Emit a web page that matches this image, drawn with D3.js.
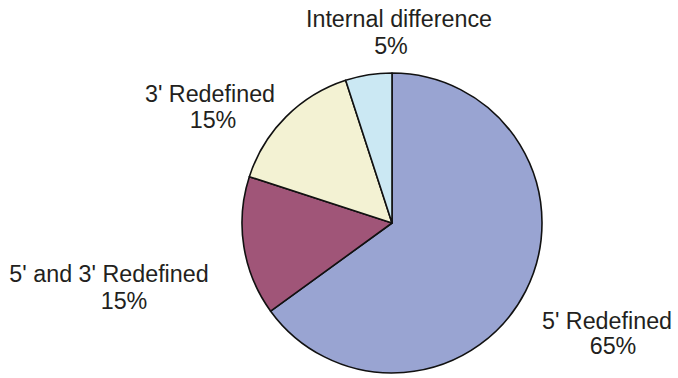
<!DOCTYPE html>
<html>
<head>
<meta charset="utf-8">
<script src="https://cdn.jsdelivr.net/npm/d3@7"></script>
<style>
  html, body { margin: 0; padding: 0; background: #fff; }
  svg { display: block; }
  text { font-family: "Liberation Sans", Arial, Helvetica, sans-serif; fill: #231f20; }
</style>
</head>
<body>
<svg id="chart" width="678" height="378"></svg>
<script>
// Share of each redefinition class
const categories = ["5' Redefined", "5' and 3' Redefined", "3' Redefined", "Internal difference"];
const values = [65, 15, 15, 5];
const colors = ["#99a4d2", "#a05578", "#f3f2d3", "#cbe8f3"];

const svg = d3.select("#chart");
const W = 678, H = 378;
const cx = 392, cy = 223, R = 150;

const data = categories.map((c, i) => ({ name: c, value: values[i], color: colors[i] }));

const pie = d3.pie().value(d => d.value).sort(null);
const arc = d3.arc().innerRadius(0).outerRadius(R);

const g = svg.append("g").attr("transform", `translate(${cx},${cy})`);
g.selectAll("path")
  .data(pie(data))
  .join("path")
  .attr("d", arc)
  .attr("fill", d => d.data.color)
  .attr("stroke", "#111")
  .attr("stroke-width", 1.6)
  .attr("stroke-linejoin", "round");

// Label placement: [name line x, name baseline, percent line x, percent baseline]
const labelPos = [
  [607, 329, 613, 354],
  [109, 282, 124, 309],
  [210, 102, 213, 128],
  [399, 27, 391, 54]
];

const labels = svg.append("g").attr("font-size", 23.3).attr("text-anchor", "middle");
data.forEach((d, i) => {
  const p = labelPos[i];
  labels.append("text").attr("x", p[0]).attr("y", p[1]).text(d.name);
  labels.append("text").attr("x", p[2]).attr("y", p[3]).text(d.value + "%");
});
</script>
</body>
</html>
